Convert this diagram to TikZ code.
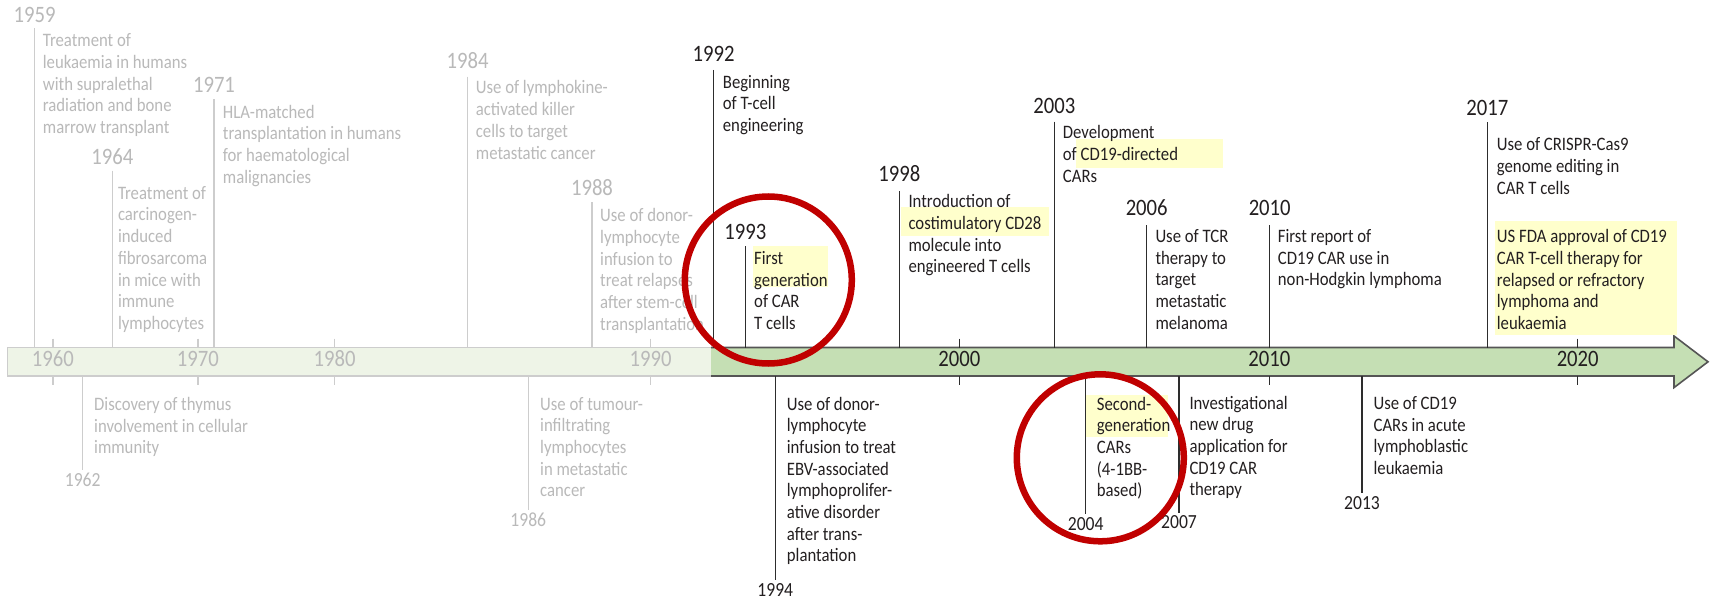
\documentclass[tikz,border=0pt]{standalone}
\usepackage{fontspec}
\setmainfont{Carlito}[FakeStretch=0.88]
\definecolor{gtext}{RGB}{185,185,185}
\definecolor{gline}{RGB}{205,205,205}
\definecolor{ktext}{RGB}{35,31,32}
\definecolor{kline}{RGB}{45,45,45}
\definecolor{barlight}{RGB}{238,244,231}
\definecolor{bargreen}{RGB}{197,223,180}
\definecolor{baredge}{RGB}{85,85,85}
\definecolor{hlyellow}{RGB}{255,255,204}
\definecolor{ringred}{RGB}{192,0,0}
\newcommand\evlines[1]{\vtop{\baselineskip=21.7bp\lineskiplimit=-1000pt\lineskip=0pt\halign{##\hfil\cr#1\crcr}}}
\begin{document}
\begin{tikzpicture}[x=1bp,y=-1bp,
  evg/.style={anchor=base west,inner sep=0pt,text=gtext,font=\fontsize{19bp}{21.7bp}\selectfont},
  evk/.style={anchor=base west,inner sep=0pt,text=ktext,font=\fontsize{19bp}{21.7bp}\selectfont},
  yrtg/.style={anchor=base,inner sep=0pt,text=gtext,font=\fontsize{23.5bp}{24bp}\selectfont},
  yrtk/.style={anchor=base,inner sep=0pt,text=ktext,font=\fontsize{23.5bp}{24bp}\selectfont},
  yrbg/.style={anchor=base,inner sep=0pt,text=gtext,font=\fontsize{20bp}{22bp}\selectfont},
  yrbk/.style={anchor=base,inner sep=0pt,text=ktext,font=\fontsize{20bp}{22bp}\selectfont},
  axg/.style={anchor=base,inner sep=0pt,text=gtext,font=\fontsize{23.5bp}{24bp}\selectfont},
  axk/.style={anchor=base,inner sep=0pt,text=ktext,font=\fontsize{23.5bp}{24bp}\selectfont},
  lg/.style={draw=gline,line width=1.5bp},
  lk/.style={draw=kline,line width=1.4bp},
  tickg/.style={draw=gline,line width=1.5bp},
  tickk/.style={draw=kline,line width=1.4bp},
  hlbox/.style={fill=hlyellow},
  ringst/.style={circle,draw=ringred,line width=6.5bp,inner sep=0pt,minimum size=167bp}
]
\useasboundingbox (0,0) rectangle (1710,601);
\fill[white] (0,0) rectangle (1710,601);

% ---------- bar ----------
\fill[barlight] (7.3,347.5) rectangle (711,376);
\draw[gline,line width=1.5bp] (711,347.5) -- (7.3,347.5) -- (7.3,376) -- (711,376);
\fill[bargreen] (711,347.5) -- (1674,347.5) -- (1674,336) -- (1708,361.8) -- (1674,387.6) -- (1674,376) -- (711,376) -- cycle;
\draw[baredge,line width=1.6bp,line join=miter] (711,347.5) -- (1674,347.5) -- (1674,336) -- (1708,361.8) -- (1674,387.6) -- (1674,376) -- (711,376);

% ticks
\foreach \tx in {52.8,197.9,334.7,650.6} {
  \draw[tickg] (\tx,338.5) -- (\tx,347.5);
  \draw[tickg] (\tx,376) -- (\tx,385);
}
\foreach \tx in {959.3,1269.3,1577.7} {
  \draw[tickk] (\tx,338.5) -- (\tx,347.5);
  \draw[tickk] (\tx,376) -- (\tx,385);
}
\node[axg] (d1960) at (52.8,366.7) {1960};
\node[axg] (d1970) at (197.9,366.7) {1970};
\node[axg] (d1980) at (334.7,366.7) {1980};
\node[axg] (d1990) at (650.6,366.7) {1990};
\node[axk] (d2000) at (959.3,366.7) {2000};
\node[axk] (d2010) at (1269.3,366.7) {2010};
\node[axk] (d2020) at (1577.7,366.7) {2020};

% ---------- highlights ----------
\fill[hlyellow] (752.7,246) rectangle (827.7,287);
\fill[hlyellow] (901,207) rectangle (1049,235.7);
\fill[hlyellow] (1076,139.3) rectangle (1223.3,167.7);
\fill[hlyellow] (1495,221) rectangle (1676.7,335);
\fill[hlyellow] (1085.7,395) rectangle (1167.7,436.7);

% ---------- bar anchor coordinates ----------
\foreach \nm/\xx in {1959/34.7,1964/112.3,1971/214,1984/467.7,1988/592,1992/713.7,1993/745.3,1998/899.3,2003/1054.3,2006/1146.7,2010/1269.7,2017/1487.3} {
  \coordinate (b\nm) at (\xx,347.5);
}
\foreach \nm/\xx in {1962/82.7,1986/528.3,1994/775.3,2004/1085.7,2007/1179,2013/1362} {
  \coordinate (c\nm) at (\xx,376);
}

% ---------- gray events above ----------
\node[yrtg] (y1959) at (34.7,22.7) {1959};
\draw[lg] ([yshift=-5bp]y1959.south) -- (b1959);
\node[evg] (t1959) at (42.7,46.7) {\evlines{Treatment of\cr leukaemia in humans\cr with supralethal\cr radiation and bone\cr marrow transplant}};

\node[yrtg] (y1964) at (112.3,164.3) {1964};
\draw[lg] ([yshift=-6bp]y1964.south) -- (b1964);
\node[evg] (t1964) at (117.8,199.3) {\evlines{Treatment of\cr carcinogen-\cr induced\cr fibrosarcoma\cr in mice with\cr immune\cr lymphocytes}};

\node[yrtg] (y1971) at (214,92.3) {1971};
\draw[lg] ([yshift=-7bp]y1971.south) -- (b1971);
\node[evg] (t1971) at (222.7,118.3) {\evlines{HLA-matched\cr transplantation in humans\cr for haematological\cr malignancies}};

\node[yrtg] (y1984) at (467.7,68.3) {1984};
\draw[lg] ([yshift=-8bp]y1984.south) -- (b1984);
\node[evg] (t1984) at (475.7,94) {\evlines{Use of lymphokine-\cr activated killer\cr cells to target\cr metastatic cancer}};

\node[yrtg] (y1988) at (592,195.7) {1988};
\draw[lg] ([yshift=-6bp]y1988.south) -- (b1988);
\node[evg] (t1988) at (600,221.7) {\evlines{Use of donor-\cr lymphocyte\cr infusion to\cr treat relapses\cr after stem-cell\cr transplantation}};

% ---------- gray events below ----------
\node[yrbg] (y1962) at (82.7,486.7) {1962};
\draw[lg] (c1962) -- ([yshift=3bp]y1962.north);
\node[evg] (t1962) at (94,410.5) {\evlines{Discovery of thymus\cr involvement in cellular\cr immunity}};

\node[yrbg] (y1986) at (528.3,526.7) {1986};
\draw[lg] (c1986) -- ([yshift=3bp]y1986.north);
\node[evg] (t1986) at (540,410) {\evlines{Use of tumour-\cr infiltrating\cr lymphocytes\cr in metastatic\cr cancer}};

% ---------- black events above ----------
\node[yrtk] (y1992) at (713.7,61.7) {1992};
\draw[lk] ([yshift=-8bp]y1992.south) -- (b1992);
\node[evk] (t1992) at (722.7,88.3) {\evlines{Beginning\cr of T-cell\cr engineering}};

\node[yrtk] (y1993) at (745.3,240) {1993};
\draw[lk] ([yshift=-6bp]y1993.south) -- (b1993);
\node[evk] (t1993) at (754,264.3) {\evlines{First\cr generation\cr of CAR\cr T cells}};

\node[yrtk] (y1998) at (899.3,181.7) {1998};
\draw[lk] ([yshift=-9bp]y1998.south) -- (b1998);
\node[evk] (t1998) at (908.3,207.7) {\evlines{Introduction of\cr costimulatory CD28\cr molecule into\cr engineered T cells}};

\node[yrtk] (y2003) at (1054.3,113.3) {2003};
\draw[lk] ([yshift=-8bp]y2003.south) -- (b2003);
\node[evk] (t2003) at (1062.7,139) {\evlines{Development\cr of CD19-directed\cr CARs}};

\node[yrtk] (y2006) at (1146.7,216) {2006};
\draw[lk] ([yshift=-9bp]y2006.south) -- (b2006);
\node[evk] (t2006) at (1155.3,242.3) {\evlines{Use of TCR\cr therapy to\cr target\cr metastatic\cr melanoma}};

\node[yrtk] (y2010) at (1269.7,216) {2010};
\draw[lk] ([yshift=-9bp]y2010.south) -- (b2010);
\node[evk] (t2010) at (1277.7,242.3) {\evlines{First report of\cr CD19 CAR use in\cr non-Hodgkin lymphoma}};

\node[yrtk] (y2017) at (1487.3,116) {2017};
\draw[lk] ([yshift=-6bp]y2017.south) -- (b2017);
\node[evk] (t2017a) at (1496.7,150.7) {\evlines{Use of CRISPR-Cas9\cr genome editing in\cr CAR T cells}};
\node[evk] (t2017b) at (1496.7,242.7) {\evlines{US FDA approval of CD19\cr CAR T-cell therapy for\cr relapsed or refractory\cr lymphoma and\cr leukaemia}};

% ---------- black events below ----------
\node[yrbk] (y1994) at (775.3,596.7) {1994};
\draw[lk] (c1994) -- ([yshift=4bp]y1994.north);
\node[evk] (t1994) at (786.7,410) {\evlines{Use of donor-\cr lymphocyte\cr infusion to treat\cr EBV-associated\cr lymphoprolifer-\cr ative disorder\cr after trans-\cr plantation}};

\node[yrbk] (y2004) at (1085.7,530) {2004};
\draw[lk] (c2004) -- ([yshift=3bp]y2004.north);
\node[evk] (t2004) at (1096.7,410) {\evlines{Second-\cr generation\cr CARs\cr (4-1BB-\cr based)}};

\node[yrbk] (y2007) at (1179,528.3) {2007};
\draw[lk] (c2007) -- ([yshift=2bp]y2007.north);
\node[evk] (t2007) at (1189.3,409) {\evlines{Investigational\cr new drug\cr application for\cr CD19 CAR\cr therapy}};

\node[yrbk] (y2013) at (1362,509) {2013};
\draw[lk] (c2013) -- ([yshift=3bp]y2013.north);
\node[evk] (t2013) at (1373.4,409.4) {\evlines{Use of CD19\cr CARs in acute\cr lymphoblastic\cr leukaemia}};

% ---------- red rings ----------
\node[ringst] (ring1) at (768.3,280) {};
\node[ringst] (ring2) at (1100.3,457.8) {};
\end{tikzpicture}
\end{document}
